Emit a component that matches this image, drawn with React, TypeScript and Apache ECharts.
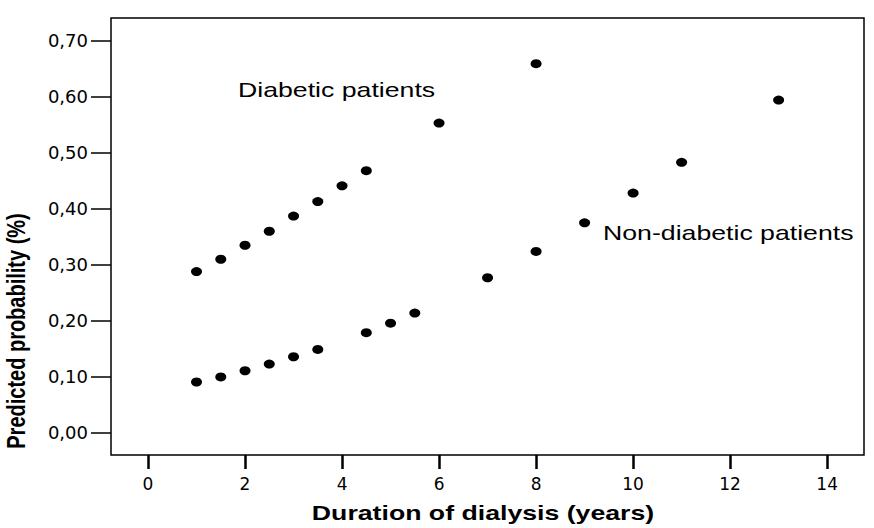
import React, { useEffect, useRef } from "react";
import * as echarts from "echarts";

const diabeticX = [1, 1.5, 2, 2.5, 3, 3.5, 4, 4.5, 6, 8];
const diabeticY = [0.288, 0.31, 0.335, 0.36, 0.387, 0.413, 0.441, 0.468, 0.553, 0.659];

const nonDiabeticX = [1, 1.5, 2, 2.5, 3, 3.5, 4.5, 5, 5.5, 7, 8, 9, 10, 11, 13];
const nonDiabeticY = [0.091, 0.1, 0.111, 0.123, 0.136, 0.149, 0.179, 0.196, 0.214, 0.277, 0.324, 0.375, 0.428, 0.483, 0.594];

const xTicks = [0, 2, 4, 6, 8, 10, 12, 14];
const yTicks = [0, 0.1, 0.2, 0.3, 0.4, 0.5, 0.6, 0.7];

const xTitle = "Duration of dialysis (years)";
const yTitle = "Predicted probability (%)";
const labelDiabetic = "Diabetic patients";
const labelNonDiabetic = "Non-diabetic patients";

export default function App() {
  const ref = useRef<HTMLDivElement>(null);
  useEffect(() => {
    if (!ref.current) return;
    const chart = echarts.init(ref.current, null, { renderer: "svg" });
    const pair = (xs: number[], ys: number[]) => xs.map((x, i) => [x, ys[i]]);
    chart.setOption({
      animation: false,
      backgroundColor: "#fff",
      grid: {
        left: 111,
        top: 18,
        right: 10,
        bottom: 73,
        show: true,
        borderColor: "#000",
        borderWidth: 1.5,
        backgroundColor: "transparent",
      },
      xAxis: {
        type: "value",
        position: "bottom",
        min: -0.763,
        max: 14.76,
        axisLine: { show: false, onZero: false },
        splitLine: { show: false },
        axisTick: {
          show: true,
          inside: false,
          length: 14,
          customValues: xTicks,
          lineStyle: { color: "#000", width: 2.5 },
        },
        axisLabel: {
          customValues: xTicks,
          margin: 20,
          color: "#000",
          fontFamily: "DejaVu Sans",
          fontSize: 17,
          formatter: (v: number) => String(v),
        },
      },
      yAxis: {
        type: "value",
        position: "left",
        min: -0.0393,
        max: 0.7405,
        axisLine: { show: false, onZero: false },
        splitLine: { show: false },
        axisTick: {
          show: true,
          inside: false,
          length: 20,
          customValues: yTicks,
          lineStyle: { color: "#000", width: 1.5 },
        },
        axisLabel: {
          customValues: yTicks,
          margin: 23,
          color: "#000",
          fontFamily: "DejaVu Sans",
          fontSize: 18,
          formatter: (v: number) => v.toFixed(2).replace(".", ","),
        },
      },
      series: [
        {
          type: "scatter",
          name: labelDiabetic,
          data: pair(diabeticX, diabeticY),
          symbol: "circle",
          symbolSize: [11, 9],
          itemStyle: { color: "#000", opacity: 1 },
        },
        {
          type: "scatter",
          name: labelNonDiabetic,
          data: pair(nonDiabeticX, nonDiabeticY),
          symbol: "circle",
          symbolSize: [11, 9],
          itemStyle: { color: "#000", opacity: 1 },
        },
      ],
      graphic: [
        {
          type: "text",
          x: 238,
          y: 90,
          scaleX: 1.27,
          style: {
            text: labelDiabetic,
            fill: "#000",
            font: "21px 'Liberation Sans', Arial, sans-serif",
            textAlign: "left",
            textVerticalAlign: "middle",
          },
        },
        {
          type: "text",
          x: 603,
          y: 233,
          scaleX: 1.27,
          style: {
            text: labelNonDiabetic,
            fill: "#000",
            font: "21px 'Liberation Sans', Arial, sans-serif",
            textAlign: "left",
            textVerticalAlign: "middle",
          },
        },
        {
          type: "text",
          x: 483,
          y: 513,
          scaleX: 1.27,
          style: {
            text: xTitle,
            fill: "#000",
            font: "bold 21px 'Liberation Sans', Arial, sans-serif",
            textAlign: "center",
            textVerticalAlign: "middle",
          },
        },
        {
          type: "text",
          x: 16.5,
          y: 331,
          rotation: Math.PI / 2,
          scaleY: 1.25,
          style: {
            text: yTitle,
            fill: "#000",
            font: "bold 20px 'Liberation Sans', Arial, sans-serif",
            textAlign: "center",
            textVerticalAlign: "middle",
          },
        },
      ],
    });
    return () => chart.dispose();
  }, []);
  return <div ref={ref} style={{ width: 874, height: 528, position: "fixed", left: 0, top: 0 }} />;
}
